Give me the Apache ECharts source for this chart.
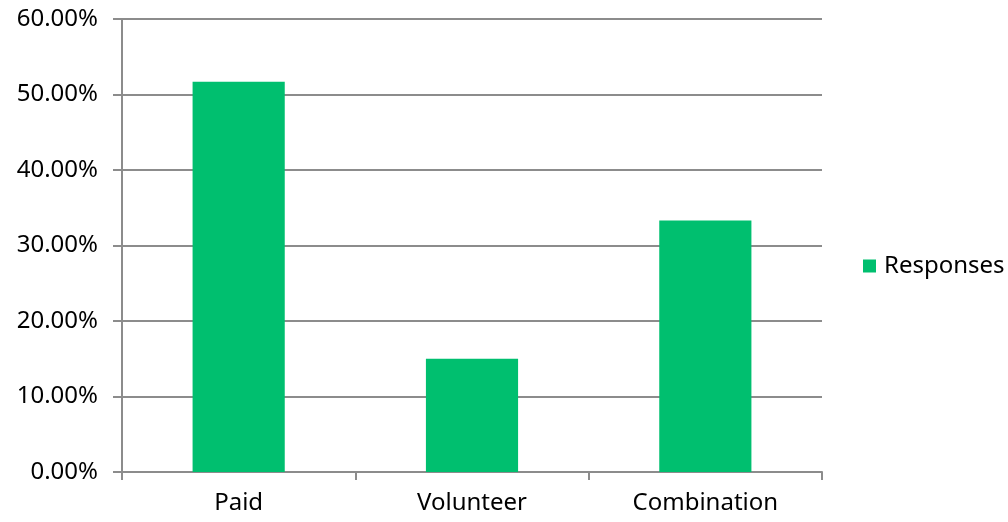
<!DOCTYPE html>
<html><head><meta charset="utf-8">
<script src="https://cdn.jsdelivr.net/npm/echarts@6/dist/echarts.min.js"></script>
<style>html,body{margin:0;padding:0;background:#fff}#c{width:1008px;height:522px}</style>
</head><body><div id="c"></div>
<script>
const categories = ['Paid', 'Volunteer', 'Combination'];
const responses = [51.7, 15.0, 33.3];
const seriesName = 'Responses';

const FONT = 'Noto Sans';
const chart = echarts.init(document.getElementById('c'), null, {renderer: 'canvas'});
chart.setOption({
  animation: false,
  textStyle: {fontFamily: FONT},
  grid: {left: 122, right: 186, top: 19, bottom: 50, containLabel: false},
  legend: {
    data: [seriesName], left: 858, top: 249, orient: 'vertical',
    icon: 'rect', itemWidth: 13, itemHeight: 13, itemGap: 5,
    textStyle: {fontFamily: FONT, fontSize: 24, color: '#000', padding: [0,0,0,3]}
  },
  xAxis: {
    type: 'category', data: categories,
    axisLine: {lineStyle: {color: '#8c8c8c', width: 2}},
    axisTick: {show: true, length: 8, alignWithLabel: false, lineStyle: {color: '#8c8c8c', width: 2}},
    axisLabel: {fontFamily: FONT, fontSize: 24, color: '#000', margin: 19},
    splitLine: {show: false}
  },
  yAxis: {
    type: 'value', min: 0, max: 60, interval: 10,
    axisLine: {show: true, lineStyle: {color: '#8c8c8c', width: 2}},
    axisTick: {show: true, length: 9, lineStyle: {color: '#8c8c8c', width: 2}},
    axisLabel: {fontFamily: FONT, fontSize: 24, color: '#000', margin: 24,
      formatter: v => v.toFixed(2) + '%'},
    splitLine: {show: true, lineStyle: {color: '#8c8c8c', width: 2}}
  },
  series: [{
    name: seriesName, type: 'bar', data: responses,
    barWidth: '39.5%',
    itemStyle: {color: '#00BF6F'}
  }]
});
</script></body></html>
